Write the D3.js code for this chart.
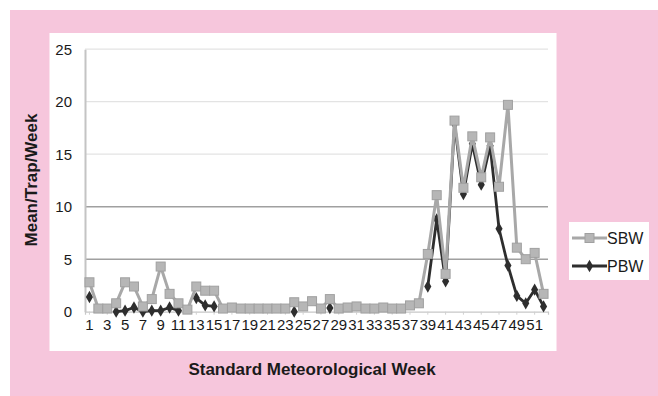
<!DOCTYPE html>
<html>
<head>
<meta charset="utf-8">
<script src="https://cdn.jsdelivr.net/npm/d3@7/dist/d3.min.js"></script>
<style>
  html, body { margin: 0; padding: 0; background: #ffffff; }
  svg { display: block; font-family: "Liberation Sans", Arial, Helvetica, sans-serif; }
</style>
</head>
<body>
<svg id="chart" width="658" height="396"></svg>
<script>
// Standard meteorological weeks 1–52
const weeks = d3.range(1, 53);
const weekTickLabels = weeks.filter(w => w % 2 === 1);
const yTickValues = [0, 5, 10, 15, 20, 25];

// Mean moth catch per trap per week
const sbwValues = [
  2.8, 0.3, 0.3, 0.8, 2.8, 2.4, 0.5, 1.2, 4.3, 1.7,
  0.8, 0.2, 2.4, 2.0, 2.0, 0.3, 0.4, 0.3, 0.3, 0.3,
  0.3, 0.3, 0.3, 0.9, 0.5, 1.0, 0.3, 1.2, 0.3, 0.4,
  0.5, 0.3, 0.3, 0.4, 0.3, 0.3, 0.6, 0.8, 5.5, 11.1,
  3.6, 18.2, 11.8, 16.7, 12.8, 16.6, 11.9, 19.7, 6.1, 5.0,
  5.6, 1.7
];
const pbwValues = [
  1.4, null, null, 0.0, 0.1, 0.4, 0.0, 0.1, 0.1, 0.4,
  0.1, null, 1.3, 0.6, 0.5, null, null, null, null, null,
  null, null, null, 0.0, null, null, null, 0.35, null, null,
  null, null, null, null, null, null, null, null, 2.4, 8.8,
  2.9, 17.9, 11.2, 16.0, 12.1, 15.8, 7.9, 4.4, 1.5, 0.8,
  2.1, 0.5
];
const seriesNames = ["SBW", "PBW"];

const svg = d3.select("#chart");

// Pink panel and white chart area
svg.append("rect").attr("x", 10).attr("y", 10).attr("width", 648).attr("height", 386).attr("fill", "#f6c6dc");
svg.append("rect").attr("x", 49.5).attr("y", 33).attr("width", 507).attr("height", 318).attr("fill", "#ffffff");

const x = d3.scaleBand().domain(weeks).range([85, 548]);
const y = d3.scaleLinear().domain([0, 25]).range([311.7, 49.2]);
const cx = w => x(w) + x.bandwidth() / 2;

// Horizontal gridlines
svg.append("g").selectAll("line")
  .data(yTickValues.filter(v => v > 0))
  .join("line")
  .attr("x1", 85).attr("x2", 548)
  .attr("y1", d => y(d)).attr("y2", d => y(d))
  .attr("stroke", d => (d <= 10 ? "#a0a0a0" : "#e3e3e3"))
  .attr("stroke-width", d => (d <= 10 ? 1.6 : 1.2));

// Y axis
const yAxis = svg.append("g")
  .attr("transform", "translate(85,0)")
  .call(d3.axisLeft(y).tickValues(yTickValues).tickSize(0).tickPadding(13));
yAxis.select(".domain").attr("stroke", "#c4c4c4").attr("stroke-width", 2);
yAxis.selectAll("text").attr("font-size", 15).attr("fill", "#1a1a1a")
  .attr("font-family", "'Liberation Sans', Arial, sans-serif");

// X axis
const xAxis = svg.append("g")
  .attr("transform", "translate(0,311.7)")
  .call(d3.axisBottom(x).tickValues(weekTickLabels).tickSize(3).tickPadding(5));
xAxis.select(".domain").attr("stroke", "#c8c8c8").attr("stroke-width", 1.2);
xAxis.selectAll(".tick line").attr("stroke", "#d0d0d0");
xAxis.selectAll("text").attr("font-size", 15).attr("fill", "#1a1a1a")
  .attr("font-family", "'Liberation Sans', Arial, sans-serif");

// Axis titles
svg.append("text")
  .attr("transform", "translate(37,180) rotate(-90)")
  .attr("text-anchor", "middle")
  .attr("font-size", 17).attr("font-weight", "bold").attr("fill", "#1a1a1a")
  .text("Mean/Trap/Week");
svg.append("text")
  .attr("x", 312).attr("y", 375)
  .attr("text-anchor", "middle")
  .attr("font-size", 17).attr("font-weight", "bold").attr("fill", "#1a1a1a")
  .text("Standard Meteorological Week");

const line = d3.line()
  .defined(d => d.v !== null)
  .x(d => cx(d.w))
  .y(d => y(d.v));

const sbw = weeks.map((w, i) => ({ w, v: sbwValues[i] }));
const pbw = weeks.map((w, i) => ({ w, v: pbwValues[i] }));

const sbwColor = "#a8a8a8";
const pbwColor = "#2e2e2e";

// PBW series
svg.append("path").datum(pbw)
  .attr("d", line).attr("fill", "none")
  .attr("stroke", pbwColor).attr("stroke-width", 2.8).attr("stroke-linejoin", "round");
svg.append("g").selectAll("path")
  .data(pbw.filter(d => d.v !== null))
  .join("path")
  .attr("transform", d => `translate(${cx(d.w)},${y(d.v)})`)
  .attr("d", d3.symbol(d3.symbolDiamond, 44))
  .attr("fill", pbwColor);

// SBW series
svg.append("path").datum(sbw)
  .attr("d", line).attr("fill", "none")
  .attr("stroke", sbwColor).attr("stroke-width", 3).attr("stroke-linejoin", "round");
svg.append("g").selectAll("rect")
  .data(sbw)
  .join("rect")
  .attr("x", d => cx(d.w) - 4.5).attr("y", d => y(d.v) - 4.5)
  .attr("width", 9).attr("height", 9)
  .attr("fill", "#b6b6b6").attr("stroke", "#a0a0a0").attr("stroke-width", 1);

// Legend
const legend = svg.append("g");
legend.append("rect").attr("x", 569).attr("y", 222).attr("width", 80).attr("height", 58).attr("fill", "#ffffff");
const legendRows = legend.selectAll("g").data(seriesNames).join("g")
  .attr("transform", (d, i) => `translate(0,${238 + i * 28})`);
legendRows.append("line")
  .attr("x1", 572).attr("x2", 607).attr("y1", 0).attr("y2", 0)
  .attr("stroke", d => (d === "SBW" ? sbwColor : pbwColor))
  .attr("stroke-width", d => (d === "SBW" ? 3 : 2.8));
legendRows.filter(d => d === "SBW").append("rect")
  .attr("x", 585).attr("y", -4.5).attr("width", 9).attr("height", 9)
  .attr("fill", "#b6b6b6").attr("stroke", "#a0a0a0");
legendRows.filter(d => d === "PBW").append("path")
  .attr("transform", "translate(589.5,0)")
  .attr("d", d3.symbol(d3.symbolDiamond, 44))
  .attr("fill", pbwColor);
legendRows.append("text")
  .attr("x", 607).attr("y", 5.5)
  .attr("font-size", 16).attr("fill", "#1a1a1a")
  .text(d => d);
</script>
</body>
</html>
